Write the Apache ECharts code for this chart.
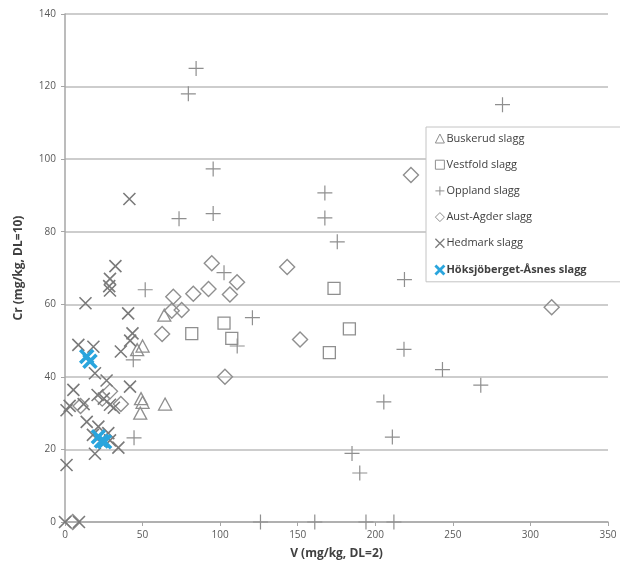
<!DOCTYPE html>
<html>
<head>
<meta charset="utf-8">
<script src="https://cdn.jsdelivr.net/npm/echarts@6/dist/echarts.min.js"></script>
<style>
  html, body { margin: 0; padding: 0; background: #fff; }
  #chart { width: 620px; height: 573px; }
</style>
</head>
<body>
<div id="chart"></div>
<script>
// V (mg/kg) vs Cr (mg/kg) for slag samples, grouped by county / site
const xTicks = [0, 50, 100, 150, 200, 250, 300, 350];
const yTicks = [0, 20, 40, 60, 80, 100, 120, 140];

const buskerud = [
  [64, 57], [46.5, 47.5], [50, 48.5], [50, 33], [49, 34], [48.5, 30], [64.5, 32.5]
];

const vestfold = [
  [173.4, 64.4], [102.5, 54.8], [81.7, 51.9], [107.5, 50.6], [183.3, 53.2], [170.4, 46.7]
];

const oppland = [
  [84.5, 125], [79.5, 118], [282, 115], [95.5, 97.3], [167.5, 90.7], [73.5, 83.6],
  [95.5, 85], [167.5, 83.8], [175.5, 77.2], [102.5, 68.7], [51.7, 64], [218.8, 66.8],
  [120.8, 56.3], [111, 48.5], [218.5, 47.6], [243.3, 42], [268, 37.7], [205.5, 33.1],
  [211, 23.4], [185, 18.9], [190, 13.5], [44.5, 23.2], [44, 44.7],
  [126, 0], [161, 0], [194, 0], [212, 0]
];

const austAgder = [
  [223, 95.6], [94.6, 71.3], [143.2, 70.3], [110.9, 66.1], [92.5, 64.2], [82.7, 62.9],
  [69.8, 62.1], [106.3, 62.7], [75.2, 58.4], [68.8, 58.2], [62.6, 51.8], [151.5, 50.3],
  [103.1, 40], [313.7, 59.2], [36, 32.5], [29, 36], [24, 34], [10, 32], [5, 0]
];

const hedmark = [
  [41.5, 89], [32.5, 70.5], [29, 67], [28.5, 65], [29, 63.8], [13.2, 60.3],
  [40.7, 57.5], [43.5, 52], [42, 50], [36, 47], [8.6, 48.8], [18.3, 48.3],
  [19.3, 41], [26.8, 39], [41.9, 37.3], [5.4, 36.4], [1, 30.8], [3, 32],
  [12, 32.5], [21, 35], [25, 34], [29, 32.3], [31.5, 31.5], [14, 27.6],
  [21.5, 26.3], [27.9, 24.5], [29, 22.5], [34.4, 20.5], [19.3, 18.8],
  [18, 24], [1, 15.7], [0, 0], [9, 0]
];

const hoksjoberget = [
  [14, 45.6], [16.1, 44.3], [21.5, 23.5], [23.5, 22.3], [25.5, 22.1]
];

const grey = '#8f8f8f';
const darkGrey = '#7a7a7a';
const blue = '#2aa5dd';

const plusPath = 'path://M0,5L10,5M5,0L5,10';
const crossPath = 'path://M0,0L10,10M10,0L0,10';

function outlineSeries(name, data, symbol, size, color, width) {
  return {
    name: name,
    type: 'scatter',
    data: data,
    symbol: symbol,
    symbolSize: size,
    itemStyle: {
      color: 'rgba(0,0,0,0)',
      borderColor: color,
      borderWidth: width,
      opacity: 1
    },
    emphasis: { disabled: true }
  };
}

function legendItem(name, width, bold) {
  const item = { name: name, itemStyle: { borderWidth: width } };
  if (bold) item.textStyle = { fontWeight: 'bold', color: '#404040' };
  return item;
}

const chart = echarts.init(document.getElementById('chart'), null, { renderer: 'canvas' });

chart.setOption({
  backgroundColor: '#ffffff',
  animation: false,
  textStyle: { fontFamily: 'Open Sans, Liberation Sans, sans-serif' },
  grid: { left: 65, right: 12, top: 14, bottom: 51, containLabel: false },
  xAxis: {
    type: 'value',
    min: xTicks[0],
    max: xTicks[xTicks.length - 1],
    interval: 50,
    name: 'V (mg/kg, DL=2)',
    nameLocation: 'middle',
    nameGap: 26,
    nameTextStyle: { fontSize: 12, fontWeight: 'bold', color: '#404040' },
    axisLine: { show: true, onZero: false, lineStyle: { color: '#a6a6a6', width: 1.5 } },
    axisTick: { show: true, length: 4, lineStyle: { color: '#a6a6a6' } },
    axisLabel: { fontSize: 10, color: '#595959', margin: 8 },
    splitLine: { show: false }
  },
  yAxis: {
    type: 'value',
    min: yTicks[0],
    max: yTicks[yTicks.length - 1],
    interval: 20,
    name: 'Cr (mg/kg, DL=10)',
    nameLocation: 'middle',
    nameGap: 40,
    nameRotate: 90,
    nameTextStyle: { fontSize: 12, fontWeight: 'bold', color: '#404040' },
    axisLine: { show: true, lineStyle: { color: '#a6a6a6', width: 1.5 } },
    axisTick: { show: true, length: 4, lineStyle: { color: '#a6a6a6' } },
    axisLabel: { fontSize: 10, color: '#595959', margin: 9 },
    splitLine: { show: true, lineStyle: { color: '#bdbdbd', width: 1.5 } }
  },
  legend: {
    orient: 'vertical',
    left: 426,
    top: 127,
    padding: [6, 60, 6, 8],
    itemGap: 15.2,
    itemWidth: 9,
    itemHeight: 9,
    backgroundColor: '#ffffff',
    borderColor: '#c4c4c4',
    borderWidth: 1,
    textStyle: { fontSize: 11, color: '#404040', padding: [0, 0, 0, -3] },
    data: [
      legendItem('Buskerud slagg', 1),
      legendItem('Vestfold slagg', 1),
      legendItem('Oppland slagg', 1),
      legendItem('Aust-Agder slagg', 1),
      legendItem('Hedmark slagg', 1.3),
      legendItem('Höksjöberget-Åsnes slagg', 2.8, true)
    ]
  },
  series: [
    outlineSeries('Buskerud slagg', buskerud, 'triangle', [13, 12], grey, 1.3),
    outlineSeries('Vestfold slagg', vestfold, 'rect', [12, 12], grey, 1.3),
    outlineSeries('Oppland slagg', oppland, plusPath, [15, 15], grey, 1.2),
    outlineSeries('Aust-Agder slagg', austAgder, 'diamond', [15, 15], grey, 1.4),
    outlineSeries('Hedmark slagg', hedmark, crossPath, [12, 12], darkGrey, 1.6),
    outlineSeries('Höksjöberget-Åsnes slagg', hoksjoberget, crossPath, [13, 13], blue, 3.6)
  ]
});
</script>
</body>
</html>
